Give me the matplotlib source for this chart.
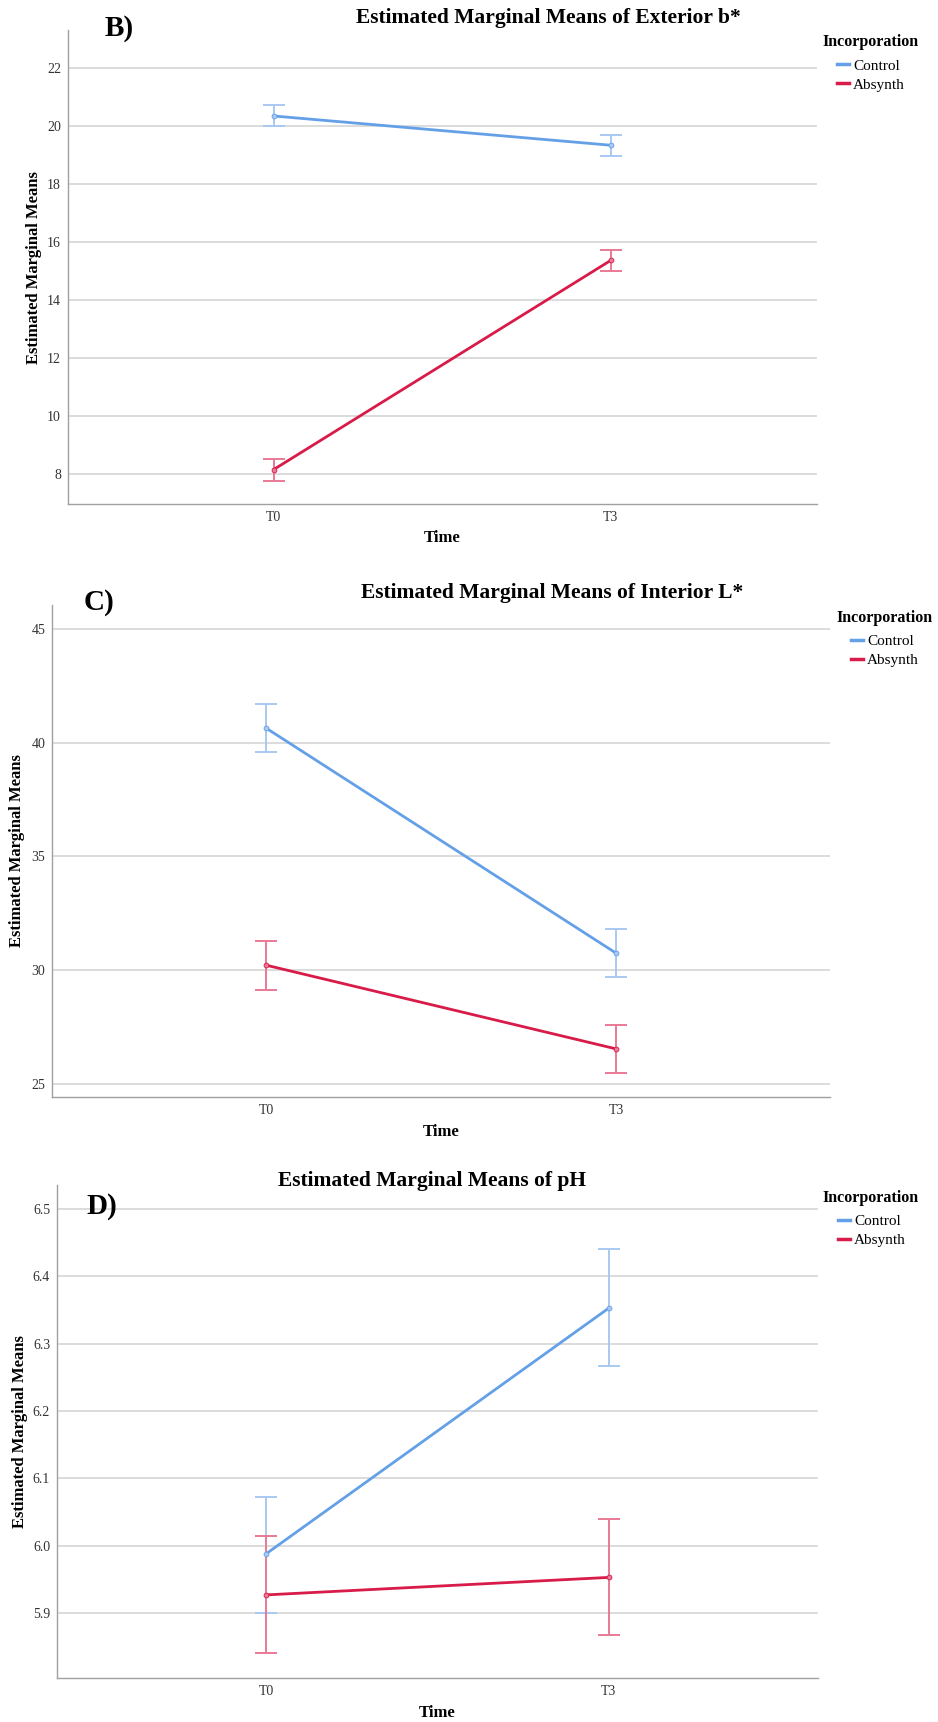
import numpy as np
import matplotlib
matplotlib.use("Agg")
import matplotlib.pyplot as plt

plt.rcParams['font.family'] = ['Liberation Serif', 'DejaVu Serif']

W, H = 938, 1722

times = ['T0', 'T3']
groups = ['Control', 'Absynth']
colors = {'Control': '#64a0e8', 'Absynth': '#d81b48'}
light = {'Control': '#a9c9f2', 'Absynth': '#e97a95'}

# panel B - Exterior b*
b_ctrl = [20.35, 19.34]
b_ctrl_lo = [19.99, 18.98]
b_ctrl_hi = [20.74, 19.71]
b_abs = [8.15, 15.37]
b_abs_lo = [7.75, 15.00]
b_abs_hi = [8.50, 15.74]

# panel C - Interior L*
c_ctrl = [40.64, 30.75]
c_ctrl_lo = [39.60, 29.69]
c_ctrl_hi = [41.70, 31.81]
c_abs = [30.23, 26.55]
c_abs_lo = [29.16, 25.49]
c_abs_hi = [31.29, 27.61]

# panel D - pH
d_ctrl = [5.988, 6.353]
d_ctrl_lo = [5.900, 6.267]
d_ctrl_hi = [6.073, 6.440]
d_abs = [5.927, 5.953]
d_abs_lo = [5.840, 5.867]
d_abs_hi = [6.014, 6.040]

panels = [
    dict(letter='B)', title='Estimated Marginal Means of Exterior b*',
         box=(68, 816.6, 30.5, 504), ylim=(6.96, 23.30), yticks=[8, 10, 12, 14, 16, 18, 20, 22], fmt='{:.0f}',
         data={'Control': (b_ctrl, b_ctrl_lo, b_ctrl_hi), 'Absynth': (b_abs, b_abs_lo, b_abs_hi)},
         title_xy=(548, 18), letter_xy=(119, 28), leg_title=(822, 42), leg_xy=(837, 59),
         ylab_x=34, xlab_y=538),
    dict(letter='C)', title='Estimated Marginal Means of Interior L*',
         box=(52.3, 830, 604.6, 1097), ylim=(24.44, 46.06), yticks=[25, 30, 35, 40, 45], fmt='{:.0f}',
         data={'Control': (c_ctrl, c_ctrl_lo, c_ctrl_hi), 'Absynth': (c_abs, c_abs_lo, c_abs_hi)},
         title_xy=(552, 593), letter_xy=(99, 603), leg_title=(836, 617.6), leg_xy=(851, 634.5),
         ylab_x=17, xlab_y=1132.5),
    dict(letter='D)', title='Estimated Marginal Means of pH',
         box=(57, 818, 1184.8, 1678), ylim=(5.8036, 6.536), yticks=[5.9, 6.0, 6.1, 6.2, 6.3, 6.4, 6.5], fmt='{:.1f}',
         data={'Control': (d_ctrl, d_ctrl_lo, d_ctrl_hi), 'Absynth': (d_abs, d_abs_lo, d_abs_hi)},
         title_xy=(432, 1181), letter_xy=(102, 1207), leg_title=(822.6, 1197.8), leg_xy=(838, 1214.5),
         ylab_x=20, xlab_y=1713),
]

fig = plt.figure(figsize=(W / 100, H / 100), dpi=100)
fig.patch.set_facecolor('white')

x = np.arange(len(times))
for p in panels:
    l, r, t, b = p['box']
    ax = fig.add_axes([l / W, 1 - b / H, (r - l) / W, (b - t) / H])
    handles = []
    for g in groups:
        m, lo, hi = p['data'][g]
        m = np.array(m)
        yerr = [m - np.array(lo), np.array(hi) - m]
        ax.errorbar(x, m, yerr=yerr, fmt='none', ecolor=light[g], elinewidth=1.4,
                    capsize=8, capthick=1.4, zorder=3)
        h, = ax.plot(x, m, color=colors[g], lw=2.0, marker='o', ms=3.5,
                     mfc=light[g], mec=colors[g], mew=0.6, zorder=4, label=g)
        handles.append(h)
    ax.set_xlim(-0.61, 1.61)
    ax.set_ylim(*p['ylim'])
    ax.set_xticks(x)
    ax.set_xticklabels(times)
    ax.set_yticks(p['yticks'])
    ax.set_yticklabels([p['fmt'].format(v) for v in p['yticks']])
    ax.tick_params(length=0, labelsize=10, labelcolor='#333333', pad=5)
    ax.yaxis.grid(True, color='#dcdcdc', lw=1.4)
    ax.set_axisbelow(True)
    for s in ['top', 'right']:
        ax.spines[s].set_visible(False)
    for s in ['left', 'bottom']:
        ax.spines[s].set_color('#a0a0a0')
        ax.spines[s].set_linewidth(1.0)

    ax.set_xlabel('Time', fontsize=12, fontweight='bold')
    ax.xaxis.set_label_coords(0.5, -(p['xlab_y'] - b) / (b - t))
    ax.xaxis.label.set_va('center')
    ax.set_ylabel('Estimated Marginal Means', fontsize=12, fontweight='bold')
    ax.yaxis.set_label_coords((p['ylab_x'] - l) / (r - l), 0.5)
    ax.yaxis.label.set_va('center')

    tx, ty = p['title_xy']
    fig.text(tx / W, 1 - ty / H, p['title'], ha='center', va='center',
             fontsize=15.5, fontweight='bold')
    lx, ly = p['letter_xy']
    fig.text(lx / W, 1 - ly / H, p['letter'], ha='center', va='center',
             fontsize=21, fontweight='bold')

    # legend: title as separate text, entries below
    ltx, lty = p['leg_title']
    fig.text(ltx / W, 1 - lty / H, 'Incorporation', ha='left', va='center',
             fontsize=11.5, fontweight='bold')
    gx, gy = p['leg_xy']
    leg = fig.legend(handles=handles, labels=groups,
                     loc='upper left', bbox_to_anchor=(gx / W, 1 - gy / H),
                     bbox_transform=fig.transFigure, frameon=False, fontsize=11,
                     handlelength=0.8, handletextpad=0.25, labelspacing=0.35,
                     borderpad=0, borderaxespad=0)
    for lh in leg.get_lines():
        lh.set_marker('')
        lh.set_linewidth(2.5)

fig.savefig('out.png', dpi=100)
